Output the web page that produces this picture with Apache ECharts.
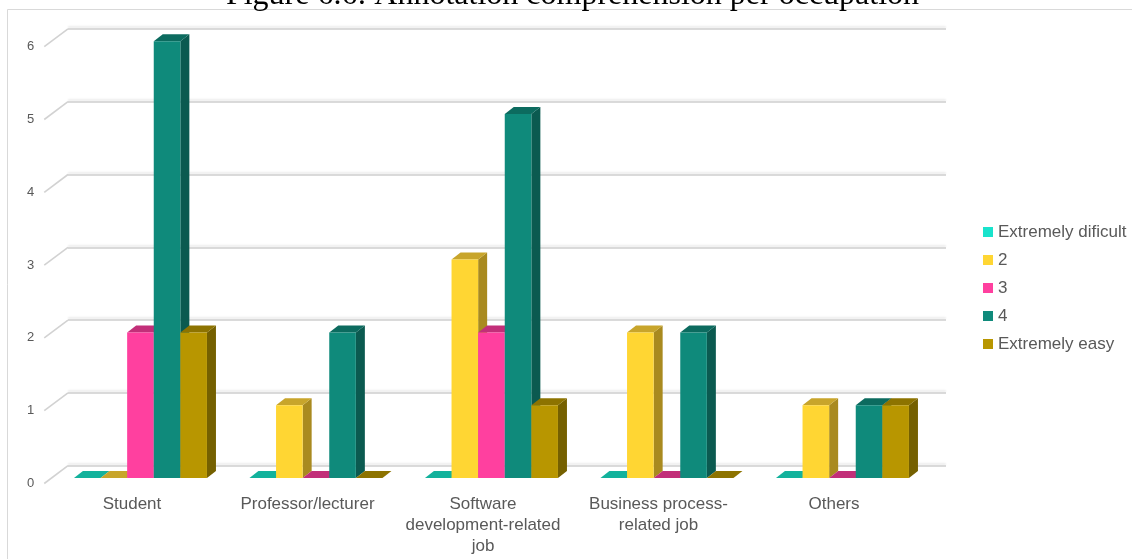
<!DOCTYPE html>
<html>
<head>
<meta charset="utf-8">
<script src="https://cdn.jsdelivr.net/npm/echarts@6/dist/echarts.min.js"></script>
<style>
  html, body { margin: 0; padding: 0; background: #ffffff; }
  #chart { width: 1132px; height: 559px; }
</style>
</head>
<body>
<div id="chart"></div>
<script>
// Occupations (tick labels on the category axis)
const categories = [
  'Student',
  'Professor/lecturer',
  'Software\ndevelopment-related\njob',
  'Business process-\nrelated job',
  'Others'
];

// Comprehension ratings, one array per rating level
const seriesNames = ['Extremely dificult', '2', '3', '4', 'Extremely easy'];
const extremelyDificult = [0, 0, 0, 0, 0];
const rating2 = [0, 1, 3, 2, 1];
const rating3 = [2, 0, 2, 0, 0];
const rating4 = [6, 2, 5, 2, 1];
const extremelyEasy = [2, 0, 1, 0, 1];

// Value axis ticks
const yTicks = [0, 1, 2, 3, 4, 5, 6];

const seriesValues = [extremelyDificult, rating2, rating3, rating4, extremelyEasy];

// Face colours of each prism: front, right side, top
const shades = [
  { front: '#19e3cc', side: '#0f9987', top: '#13b29c' },
  { front: '#ffd633', side: '#a98a1f', top: '#c8a52b' },
  { front: '#ff409f', side: '#a82567', top: '#c22f79' },
  { front: '#0f8a7b', side: '#0b5a50', top: '#0c6b5f' },
  { front: '#b89600', side: '#756000', top: '#8d7300' }
];

// Perspective of the bars and of the chart walls
const BAR_DX = 9, BAR_DY = -7;          // bar depth
const WALL_DX = 23.75, WALL_DY = 17.8;  // floor depth, back wall to front edge
const BAR_FRACTION = 0.1516;            // one bar width as a share of a category band
const FONT = '"Liberation Sans", Arial, sans-serif';
const TEXT_COLOR = '#595959';

function prismRenderer(s) {
  return function (params, api) {
    const j = api.value(0);
    const v = api.value(1);
    const base = api.coord([j, 0]);
    const top = api.coord([j, v]);
    const band = api.size([1, 0])[0];
    const w = band * BAR_FRACTION;
    const x0 = base[0] - w * 2.5 + s * w;
    const yb = base[1];
    const yt = top[1];
    const c = shades[s];
    const children = [];
    const tall = yb - yt > 0.5;
    if (tall) {
      children.push({
        type: 'polygon',
        shape: { points: [[x0 + w, yt], [x0 + w + BAR_DX, yt + BAR_DY], [x0 + w + BAR_DX, yb + BAR_DY], [x0 + w, yb]] },
        style: { fill: c.side }
      });
    }
    children.push({
      type: 'polygon',
      shape: { points: [[x0, yt], [x0 + BAR_DX, yt + BAR_DY], [x0 + w + BAR_DX, yt + BAR_DY], [x0 + w, yt]] },
      style: { fill: c.top }
    });
    if (tall) {
      children.push({
        type: 'rect',
        shape: { x: x0, y: yt, width: w, height: yb - yt },
        style: { fill: c.front }
      });
    }
    return { type: 'group', children: children };
  };
}

function wallTickRenderer(params, api) {
  const p = api.coord([0, api.value(1)]);
  return {
    type: 'line',
    shape: { x1: p[0] - WALL_DX, y1: p[1] + WALL_DY, x2: p[0], y2: p[1] },
    style: { stroke: '#d2d2d2', lineWidth: 1.6 }
  };
}

const PLOT_H = 436.8;

const option = {
  animation: false,
  backgroundColor: '#ffffff',
  graphic: [
    {
      type: 'rect',
      z: 0,
      shape: { x: 7.5, y: 9.5, width: 1300, height: 700 },
      style: { fill: 'none', stroke: '#d9d9d9', lineWidth: 1 }
    },
    {
      type: 'text',
      z: 10,
      x: 572.5,
      y: -4,
      style: {
        text: 'Figure 6.6: Annotation comprehension per occupation',
        font: '32px "Liberation Serif", "Times New Roman", serif',
        fill: '#000000',
        align: 'center',
        verticalAlign: 'middle'
      }
    }
  ],
  legend: {
    orient: 'vertical',
    left: 983,
    top: 222,
    padding: 0,
    itemWidth: 10,
    itemHeight: 10,
    itemGap: 8,
    icon: 'rect',
    data: seriesNames,
    textStyle: { fontFamily: FONT, fontSize: 17, color: TEXT_COLOR, lineHeight: 20 }
  },
  grid: [
    // front edge of the floor: labels
    { left: 44.25, top: 483.5 - PLOT_H, width: 877.5, height: PLOT_H },
    // plane the bars stand on
    { left: 52.7, top: 478 - PLOT_H, width: 877.5, height: PLOT_H },
    // back wall with grid lines
    { left: 68, top: 465.7 - PLOT_H, width: 878, height: PLOT_H }
  ],
  xAxis: [
    {
      gridIndex: 0,
      type: 'category',
      data: categories,
      boundaryGap: true,
      axisLine: { show: false },
      axisTick: { show: false },
      axisLabel: {
        interval: 0,
        fontFamily: FONT,
        fontSize: 17,
        lineHeight: 21,
        color: TEXT_COLOR,
        margin: 10
      }
    },
    {
      gridIndex: 1,
      type: 'category',
      data: categories,
      boundaryGap: true,
      show: false
    },
    {
      gridIndex: 2,
      type: 'value',
      min: 0,
      max: 1,
      show: false
    }
  ],
  yAxis: [
    {
      gridIndex: 0,
      type: 'value',
      min: 0,
      max: 6,
      interval: 1,
      axisLine: { show: false },
      axisTick: { show: false },
      splitLine: { show: false },
      axisLabel: { fontFamily: FONT, fontSize: 13, color: TEXT_COLOR, margin: 10 }
    },
    {
      gridIndex: 1,
      type: 'value',
      min: 0,
      max: 6,
      interval: 1,
      show: false
    },
    {
      gridIndex: 2,
      type: 'value',
      min: 0,
      max: 6,
      interval: 1,
      axisLine: { show: false },
      axisTick: { show: false },
      axisLabel: { show: false },
      splitLine: {
        show: true,
        lineStyle: {
          color: '#cecece',
          width: 1.6,
          shadowColor: 'rgba(0,0,0,0.10)',
          shadowBlur: 2,
          shadowOffsetY: -2
        }
      }
    }
  ],
  series: [
    {
      type: 'custom',
      name: 'wall',
      xAxisIndex: 2,
      yAxisIndex: 2,
      silent: true,
      z: 1,
      renderItem: wallTickRenderer,
      data: yTicks.map(function (v) { return [0, v]; })
    }
  ].concat(seriesNames.map(function (name, s) {
    return {
      type: 'custom',
      name: name,
      xAxisIndex: 1,
      yAxisIndex: 1,
      z: 3,
      itemStyle: { color: shades[s].front },
      renderItem: prismRenderer(s),
      encode: { x: 0, y: 1 },
      data: seriesValues[s].map(function (v, j) { return [j, v]; })
    };
  }))
};

const chart = echarts.init(document.getElementById('chart'), null, { renderer: 'canvas' });
chart.setOption(option);
</script>
</body>
</html>
